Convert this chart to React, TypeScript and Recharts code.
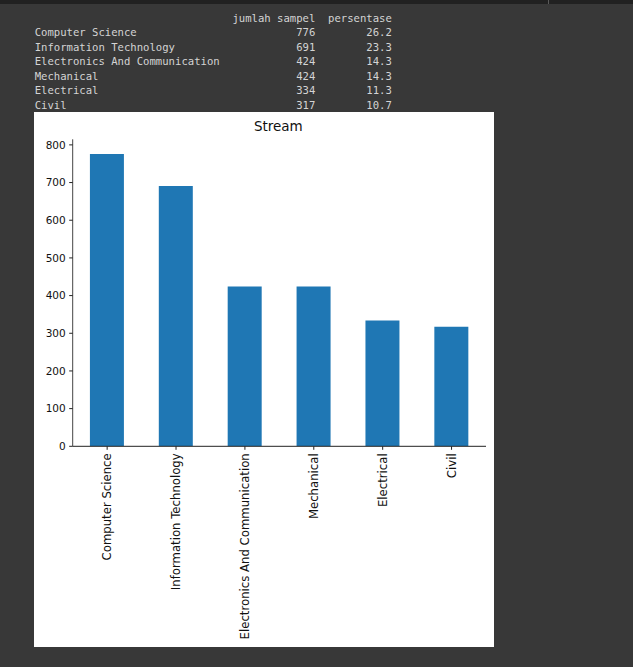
import React from 'react';
import { BarChart, Bar, XAxis, YAxis } from 'recharts';

const categories = [
  'Computer Science',
  'Information Technology',
  'Electronics And Communication',
  'Mechanical',
  'Electrical',
  'Civil',
];
const counts = [776, 691, 424, 424, 334, 317];
const percentages = [26.2, 23.3, 14.3, 14.3, 11.3, 10.7];
const yTicks = [0, 100, 200, 300, 400, 500, 600, 700, 800];
const title = 'Stream';
const columnHeaders = ['jumlah sampel', 'persentase'];

const data = categories.map((name, i) => ({ name, value: counts[i] }));
const yMax = Math.max(...counts) * 1.05;

const indexWidth = Math.max(...categories.map((c) => c.length));
const headerLine =
  ' '.repeat(indexWidth) + '  ' + columnHeaders[0] + '  ' + columnHeaders[1];
const rowLines = categories.map(
  (c, i) =>
    c.padEnd(indexWidth) +
    '  ' +
    String(counts[i]).padStart(columnHeaders[0].length) +
    '  ' +
    percentages[i].toFixed(1).padStart(columnHeaders[1].length)
);
const consoleText = [headerLine, ...rowLines].join('\n');

const FONT = '"DejaVu Sans", sans-serif';

const XTick = (props: any) => {
  const { x, y, payload } = props;
  return (
    <text
      x={x}
      y={y}
      transform={`rotate(-90, ${x}, ${y})`}
      textAnchor="end"
      dy="0.35em"
      fontFamily={FONT}
      fontSize={11.7}
      fill="#111"
    >
      {payload.value}
    </text>
  );
};

export default function App() {
  return (
    <div
      style={{
        position: 'absolute',
        left: 0,
        top: 0,
        width: 633,
        height: 667,
        background: '#383838',
        overflow: 'hidden',
      }}
    >
      <div
        style={{
          position: 'absolute',
          left: 0,
          top: 0,
          width: 633,
          height: 4,
          background: '#212121',
        }}
      />
      <div
        style={{
          position: 'absolute',
          left: 548,
          top: 0,
          width: 1,
          height: 4,
          background: '#5a5a5a',
        }}
      />
      <pre
        style={{
          position: 'absolute',
          left: 34.7,
          top: 11,
          margin: 0,
          fontFamily: '"DejaVu Sans Mono", monospace',
          fontSize: 10.6,
          lineHeight: '14.45px',
          color: '#d4d4d4',
        }}
      >
        {consoleText}
      </pre>
      <div
        style={{
          position: 'absolute',
          left: 34,
          top: 112,
          width: 460,
          height: 535,
          background: '#ffffff',
        }}
      >
        <BarChart
          width={460}
          height={535}
          data={data}
          margin={{ top: 27.3, right: 8, left: 0, bottom: 0 }}
          barCategoryGap="25%"
        >
          <XAxis
            dataKey="name"
            interval={0}
            height={200.7}
            tickSize={3.5}
            tickMargin={3.5}
            tick={<XTick />}
            axisLine={{ stroke: '#222', strokeWidth: 1 }}
            tickLine={{ stroke: '#222' }}
          />
          <XAxis
            xAxisId="top"
            orientation="top"
            dataKey="name"
            height={0}
            tick={false}
            tickLine={false}
            axisLine={{ stroke: '#888', strokeWidth: 1 }}
          />
          <YAxis
            domain={[0, yMax]}
            ticks={yTicks}
            width={38.7}
            tickSize={3.5}
            tickMargin={3.5}
            tick={{ fontFamily: FONT, fontSize: 10.5, fill: '#111' }}
            axisLine={{ stroke: '#444', strokeWidth: 1 }}
            tickLine={{ stroke: '#222' }}
            allowDataOverflow
          />
          <YAxis
            yAxisId="right"
            orientation="right"
            width={0}
            tick={false}
            tickLine={false}
            axisLine={{ stroke: '#888', strokeWidth: 1 }}
          />
          <Bar dataKey="value" fill="#1f77b4" isAnimationActive={false} />
        </BarChart>
        <div
          style={{
            position: 'absolute',
            left: 0,
            width: 2 * (38.7 + (460 - 38.7 - 8) / 2) - 2,
            top: 8.1,
            textAlign: 'center',
            fontFamily: FONT,
            fontSize: 13.5,
            lineHeight: '13.5px',
            color: '#111',
          }}
        >
          {title}
        </div>
      </div>
    </div>
  );
}
